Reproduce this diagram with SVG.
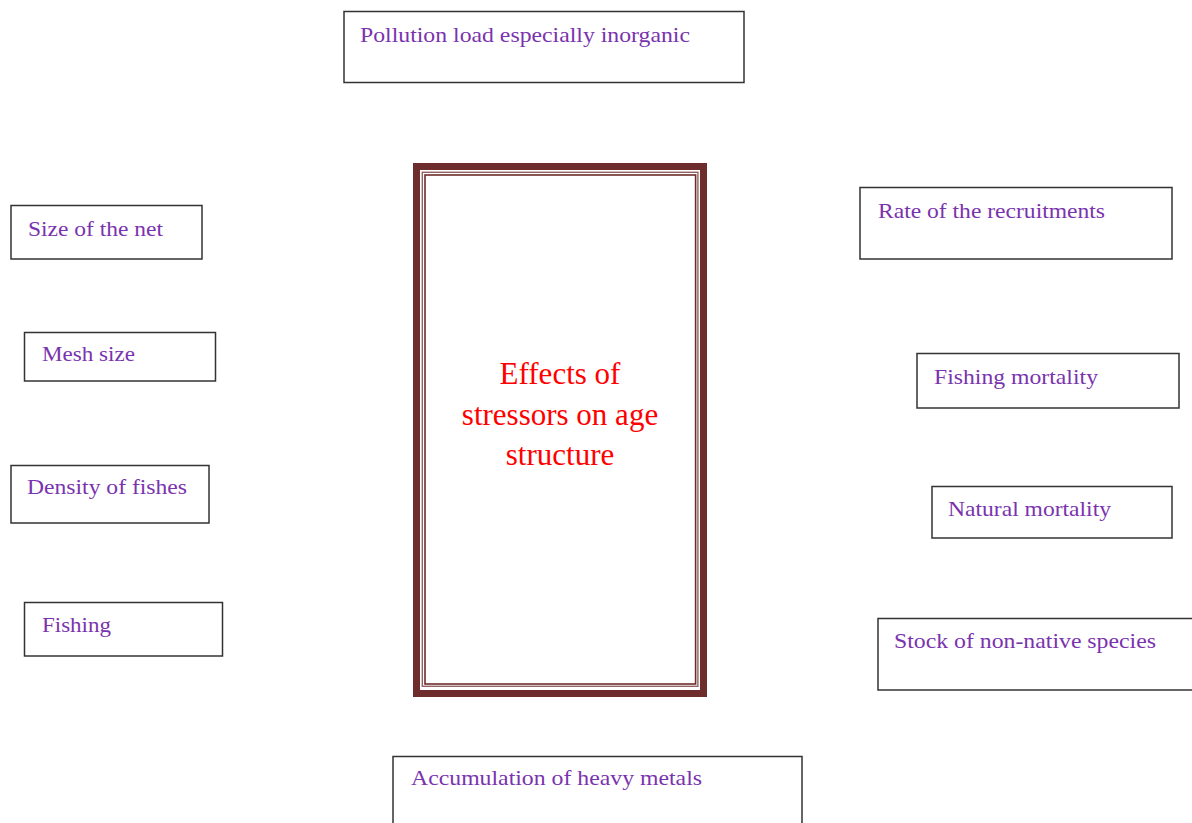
<svg xmlns="http://www.w3.org/2000/svg" width="1192" height="823" viewBox="0 0 1192 823">
<style>
.box{fill:#fff;stroke:#333;stroke-width:1.5}
.lbl{font-family:"Liberation Serif",serif;font-size:22px;fill:#7a33ae}
.ctr{font-family:"Liberation Serif",serif;font-size:31px;fill:#ff0000;text-anchor:middle}
.frame{fill:none;stroke:#6e2c2c}
</style>
<rect width="1192" height="823" fill="#fff"/>
<g id="connectors"></g>
<g id="center">
<rect class="frame" x="416.5" y="166.5" width="287" height="527" stroke-width="7"/>
<rect class="frame" x="422.3" y="172.3" width="275.6" height="514" stroke-width="1.4" stroke-opacity="0.75"/>
<rect class="frame" x="425" y="175" width="270.6" height="509" stroke-width="1.6"/>
<text class="ctr" x="560" y="384">Effects of</text>
<text class="ctr" x="560" y="425">stressors on age</text>
<text class="ctr" x="560" y="465">structure</text>
</g>
<g id="pollution"><rect class="box" x="344" y="11.5" width="400" height="71"/><text class="lbl" x="360" y="42" textLength="330" lengthAdjust="spacingAndGlyphs">Pollution load especially  inorganic</text></g>
<g id="size-net"><rect class="box" x="11" y="205.5" width="191" height="53.5"/><text class="lbl" x="28" y="236" textLength="135" lengthAdjust="spacingAndGlyphs">Size of the net</text></g>
<g id="mesh"><rect class="box" x="24.5" y="332.5" width="191" height="48.5"/><text class="lbl" x="42" y="361" textLength="93" lengthAdjust="spacingAndGlyphs">Mesh size</text></g>
<g id="density"><rect class="box" x="11" y="465.5" width="198" height="57.5"/><text class="lbl" x="27" y="494" textLength="160" lengthAdjust="spacingAndGlyphs">Density of fishes</text></g>
<g id="fishing"><rect class="box" x="24.5" y="602.5" width="198" height="53.5"/><text class="lbl" x="42" y="632" textLength="69" lengthAdjust="spacingAndGlyphs">Fishing</text></g>
<g id="recruit"><rect class="box" x="860" y="187.5" width="312" height="71.5"/><text class="lbl" x="878" y="218" textLength="227" lengthAdjust="spacingAndGlyphs">Rate of the recruitments</text></g>
<g id="fishing-mort"><rect class="box" x="917" y="353.5" width="262" height="54.5"/><text class="lbl" x="934" y="384" textLength="164" lengthAdjust="spacingAndGlyphs">Fishing mortality</text></g>
<g id="natural-mort"><rect class="box" x="932" y="486.5" width="240" height="51.5"/><text class="lbl" x="948" y="516" textLength="163" lengthAdjust="spacingAndGlyphs">Natural mortality</text></g>
<g id="stock"><rect class="box" x="878" y="618.5" width="320" height="71.5"/><text class="lbl" x="894" y="648" textLength="262" lengthAdjust="spacingAndGlyphs">Stock of non-native  species</text></g>
<g id="heavy-metals"><rect class="box" x="393" y="756.5" width="409" height="80"/><text class="lbl" x="411" y="785" textLength="291" lengthAdjust="spacingAndGlyphs">Accumulation  of heavy metals</text></g>
</svg>
